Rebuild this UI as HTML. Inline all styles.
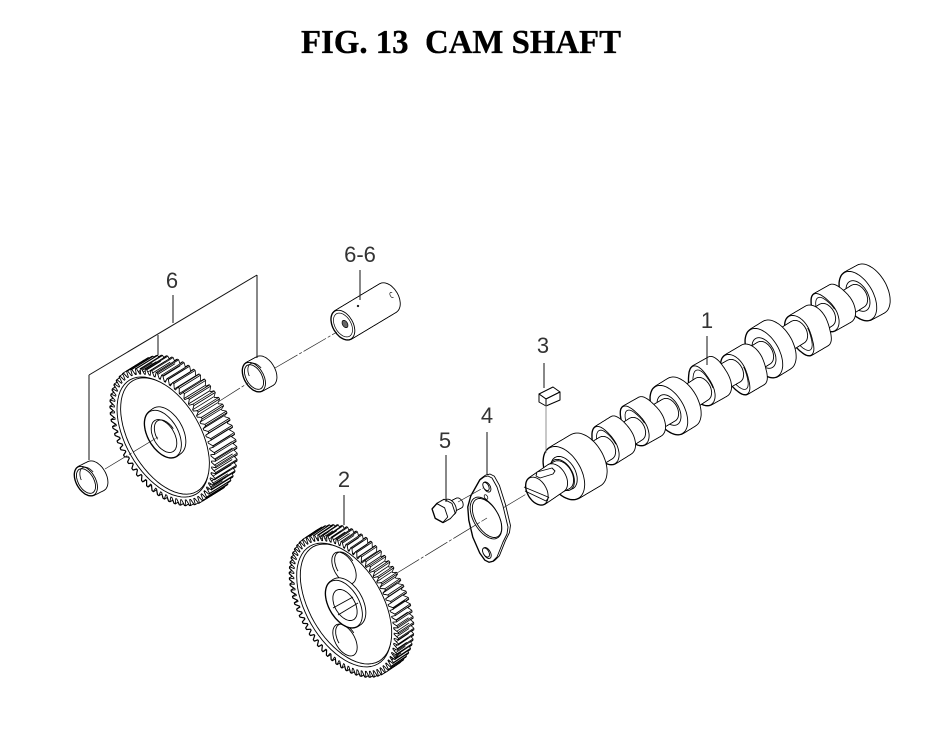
<!DOCTYPE html>
<html><head><meta charset="utf-8"><title>FIG. 13 CAM SHAFT</title>
<style>
html,body{margin:0;padding:0;background:#fff;width:948px;height:754px;overflow:hidden}
svg{display:block}
.t{font-family:"Liberation Serif",serif;font-weight:bold;font-size:34px;fill:#000;stroke:#000;stroke-width:.35}
.l{font-family:"Liberation Sans",sans-serif;font-size:22px;fill:#333;text-anchor:middle}
.ln{stroke:#111;stroke-width:1;fill:none}
.ax{stroke:#222;stroke-width:.7;fill:none;stroke-dasharray:26 2 3 2}
</style></head><body>
<svg id="s" xmlns="http://www.w3.org/2000/svg" width="948" height="754" viewBox="0 0 948 754">
<rect width="948" height="754" fill="#fff"/>
<g id="d"></g>
<g id="o">
<path class="ln" d="M173 295V323M89 375L257 275M89 375V460M257 275V358M158 335V355M360 270V300M344 495V525M446 455V502M487 432V475M544 363V388M707 336V365"/>
<path class="ax" d="M105 469L158 437M218 402L248 383M275 368L337 332M397 573L487 518M503 508L528 493M458 502L483 488"/>
<path d="M546 405V453" stroke="#777" stroke-width=".8" fill="none"/>
</g>
<text class="t" x="301" y="53" xml:space="preserve" textLength="320" lengthAdjust="spacingAndGlyphs">FIG. 13  CAM SHAFT</text>
<text class="l" x="360" y="262">6-6</text>
<text class="l" x="172" y="288">6</text>
<text class="l" x="344" y="487">2</text>
<text class="l" x="445" y="448">5</text>
<text class="l" x="487" y="423">4</text>
<text class="l" x="543" y="353">3</text>
<text class="l" x="707" y="328">1</text>
</svg>
<script>
var G=document.getElementById('d'),NS='http://www.w3.org/2000/svg',R=Math.PI/3,cr=Math.cos(R),sr=Math.sin(R);
function P(pts,fill,sw,close,col){var e=document.createElementNS(NS,close===false?'polyline':'polygon');
 e.setAttribute('points',pts.map(function(p){return p[0].toFixed(1)+','+p[1].toFixed(1)}).join(' '));
 e.setAttribute('fill',fill===undefined?'#fff':fill);
 if(sw!==0){e.setAttribute('stroke',col||'#000');e.setAttribute('stroke-width',sw||.9);e.setAttribute('stroke-linejoin','round');}
 G.appendChild(e);}
function pt(c,x,y){return [c[0]+x*cr-y*sr,c[1]+x*sr+y*cr];}
function ell(c,a,b,f,t0,t1){var o=[],N=64;t0=t0||0;t1=t1===undefined?2*Math.PI:t1;for(var i=0;i<N;i++){var t=t0+(t1-t0)*i/(t1-t0>6.28?N:N-1),r=f?f(t):1;o.push(pt(c,a*r*Math.cos(t),b*r*Math.sin(t)));}return o;}
function E(c,a,b,fill,sw){P(ell(c,a,b),fill,sw);}
function A(c,a,b,t0,t1,sw){P(ell(c,a,b,null,t0,t1),'none',sw||.9,false);}
function X(c1,c2,prof,sw){sw=sw||.9;var d=Math.hypot(c2[0]-c1[0],c2[1]-c1[1]),n=Math.max(1,Math.ceil(d/.7)),i,u,cs=[];
 for(i=0;i<=n;i++){u=i/n;cs.push([c1[0]+(c2[0]-c1[0])*u,c1[1]+(c2[1]-c1[1])*u]);}
 cs.forEach(function(c){P(prof(c),'#000',sw*2);});
 cs.forEach(function(c){P(prof(c),'#fff',0);});
 P(prof(c2),'#fff',sw);}
function cyl(c1,c2,a,b,sw){X(c1,c2,function(c){return ell(c,a,b)},sw);}
function gear(c,d,a,b,n,root){var s=2*Math.PI/n,K=[[0,root],[.28,1],[.5,1],[.78,root]];
 var prof=function(cc){var o=[];for(var i=0;i<n;i++){K.forEach(function(q){var u=i*s+q[0]*s;o.push(pt(cc,a*q[1]*Math.cos(u),b*q[1]*Math.sin(u)));});}return o;};
 var back=[c[0]+d[0],c[1]+d[1]];
 X(back,c,prof,.8);
 for(var i=0;i<n;i++){K.forEach(function(q,j){var u=i*s+q[0]*s,nx=Math.cos(u)/a,ny=Math.sin(u)/b,wx=nx*cr-ny*sr,wy=nx*sr+ny*cr,l=Math.hypot(wx,wy),dot=(wx*d[0]+wy*d[1])/l;
  if(dot>2&&(j==1||j==2||j==3)){var p=pt(c,a*q[1]*Math.cos(u),b*q[1]*Math.sin(u));
   P([p,[p[0]+d[0],p[1]+d[1]]],'none',.8,false);}});}
 P(prof(c),'#fff',.8);}
function lobe(c1,c2,a,b,nose,k){var f=function(t){var dt=Math.atan2(Math.sin(t-nose),Math.cos(t-nose));return 1+k*Math.exp(-dt*dt/.4);};
 X(c1,c2,function(c){return ell(c,a,b,f)});
 P(ell([c2[0]+1.5,c2[1]-.5],a*.8,b*.8,f,nose-1.5,nose+1.5),'none',.8,false);}
function jour(back,front,a,b){cyl(back,front,a,b);E(front,a*.62,b*.66,'#fff');}
function sh(p,q){cyl(p,q,12,8);}
/* far to near */
jour([871,289],[858,296],27,15);
sh([858,296],[842,306]);
lobe([842,306],[826,315],18,11,Math.PI,.34);
sh([826,315],[815,322]);
lobe([815,322],[798,332],18,11,0,.48);
sh([798,332],[777,345]);
jour([777,345],[764,353],27,15);
sh([764,353],[751,361]);
lobe([751,361],[734,371],18,11,0,.48);
sh([734,371],[718,380]);
lobe([718,380],[702,389],18,11,3.5,.4);
sh([702,389],[682,402]);
jour([682,402],[669,410],27,15);
sh([669,410],[652,420]);
lobe([652,420],[636,429],18,11,Math.PI,.44);
sh([636,429],[622,438]);
lobe([622,438],[606,448],18,11,3.3,.32);
sh([606,448],[586,460]);
jour([586,460],[564,473],29,17);
E([562,475],17,10.5,'#fff');
cyl([562,475],[556,478],15,9.5);
cyl([556,478],[537,491],15,9.5);
P([[537,472],[552,468],[555,471],[553,474],[540,478],[536,476]],'#fff',.9);
P([[524,487],[548,497]],'none',.9,false);
P([[525,491],[546,501],[549,497]],'none',.9,false);
/* key */
P([[539,394],[553,387],[560,392],[546,399]],'#fff',1);
P([[539,394],[546,399],[546,406],[539,402]],'#fff',1);
P([[546,399],[560,392],[560,400],[546,406]],'#fff',1);
/* gasket */
var gk=[[468,507],[471,496],[480,480],[484,477],[488,476],[492,478],[497,487],[503,506],[508,527],[507,534],[503,542],[497,557],[493,561],[489,562],[485,560],[480,553],[473,537],[469,520]];
X([470,518],[468,519.5],function(c){var dx=c[0]-468,dy=c[1]-519.5;return gk.map(function(p){return [p[0]+dx,p[1]+dy]})},.9);
E([486,518],23,12.5,'#fff');E([487,518],21.5,11.5,'#fff');
E([487,487],5.5,3.2,'#fff');E([486,486.5],4.5,2.6,'#fff');
E([487,553],6,3.4,'#fff');E([486,552.5],5,2.8,'#fff');
E([486,497],2.5,1.5,'#fff',.7);
/* bolt */
cyl([459,503],[447,509],5,3.2);
cyl([450,507],[447,509],8,5);
X([447,509],[440,513],function(c){var o=[];for(var i=0;i<6;i++){var t=i*Math.PI/3+.3;o.push(pt(c,10*Math.cos(t),6.8*Math.sin(t)));}return o;});
/* gear 2 */
gear([344,606],[15,-10],78,44,70,.92);
E([344,605],68,38,'#fff');
E([346,604],66,36.5,'#fff');
E([344,568],17.5,9.8,'#fff');A([346,567],16.5,9,1.6,4.6);
E([345,640],17.5,9.8,'#fff');A([347,639],16.5,9,1.6,4.6);
cyl([347,602],[344,604],26,15);
E([345,605],17,10,'#fff');
P([[333,608],[353,597]],'none',.9,false);
P([[338,615],[358,603]],'none',.9,false);
/* gear 6 */
gear([163,437],[21,-13],75,43,60,.92);
E([163,437],66,37,'#fff');
E([165,436],64,35.5,'#fff');
cyl([167,431],[163,434],26,15);
E([164,436],18,10.5,'#fff');
A([166,435],16.5,9.5,1.6,4.6);
/* bushings */
cyl([265,371],[254,377],16,9.5);E([254,377],13.5,7.8,'#fff');A([257,375],13,7.4,1.8,4.4,.8);
cyl([96,476],[86,481],16,9.5);E([86,481],13.5,7.8,'#fff');A([89,479],13,7.4,1.8,4.4,.8);
/* pin */
cyl([388,298],[343,325],16,10);
E([343,325],13,8,'#fff',.7);
E([345,324],4,2.5,'#666',.7);
A([392,295],3,1.8,0,4,.6);
E([358,306],.9,.9,'#000',.5);
</script>
</body></html>
